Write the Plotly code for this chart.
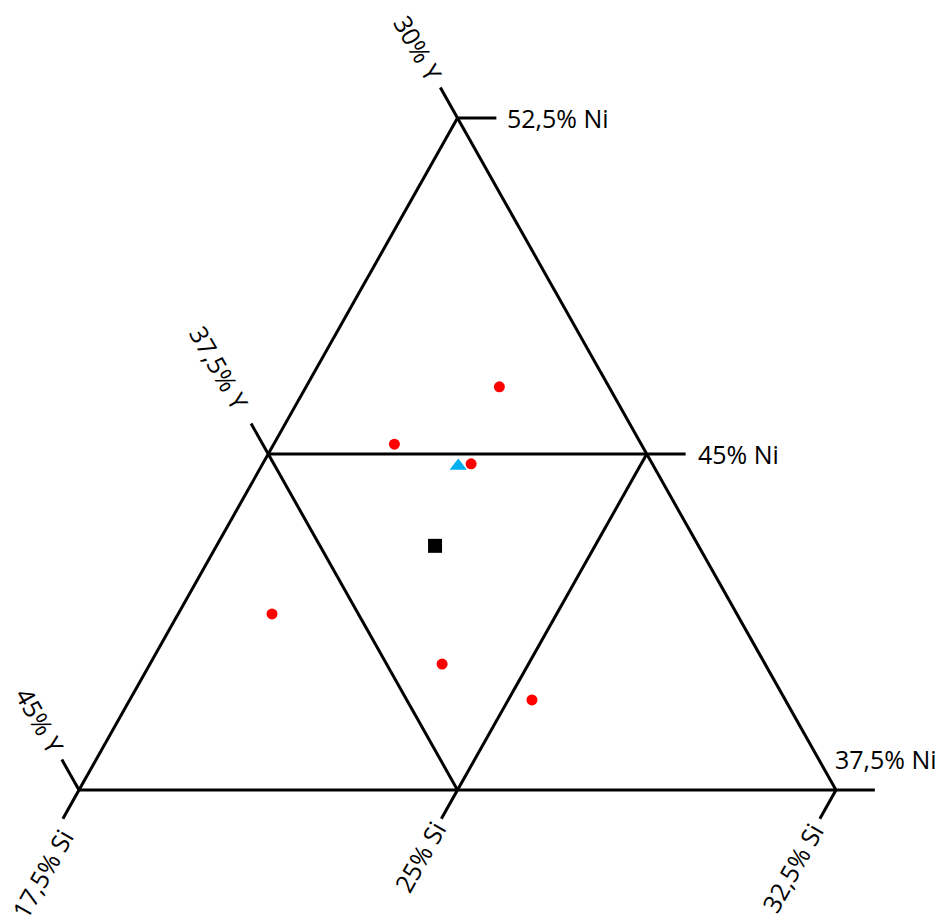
import plotly.graph_objects as go

# Composition window (at.%): each component spans 15 points
NI_MIN, SI_MIN, Y_MIN, SPAN = 37.5, 17.5, 30.0, 15.0

# Measured alloy compositions (Ni, Si, Y in at.%)
alloy_ni = [46.50, 45.22, 44.78, 40.31, 39.51, 41.43]
alloy_si = [21.33, 19.89, 21.63, 23.29, 25.47, 19.36]
alloy_y = [32.17, 34.89, 33.59, 36.40, 35.02, 39.21]

# Reference compositions
target_ni, target_si, target_y = [44.73], [21.40], [33.87]
nominal_ni, nominal_si, nominal_y = [42.95], [21.83], [35.22]

# Tick values on each component
ni_ticks = [52.5, 45.0, 37.5]
ni_labels = ["52,5% Ni", "45% Ni", "37,5% Ni"]
y_ticks = [30.0, 37.5, 45.0]
y_labels = ["30% Y", "37,5% Y", "45% Y"]
si_ticks = [17.5, 25.0, 32.5]
si_labels = ["17,5% Si", "25% Si", "32,5% Si"]


def to_xy(ni, si):
    """Project a (Ni, Si, Y) composition onto the plane of the triangle."""
    a = (ni - NI_MIN) / SPAN
    c = (si - SI_MIN) / SPAN
    return c + a / 2.0, a


def seg(p, q):
    x0, y0 = to_xy(*p)
    x1, y1 = to_xy(*q)
    return [x0, x1, None], [y0, y1, None]


LINE = dict(color="black", width=3)
FONT = dict(family="Open Sans, Lato, sans-serif", size=25, color="black")

xs, ys = [], []
# Outer triangle and inner half-way lines, as (Ni, Si) pairs
tri = [(52.5, 17.5), (37.5, 17.5), (37.5, 32.5), (52.5, 17.5)]
for p, q in zip(tri[:-1], tri[1:]):
    sx, sy = seg(p, q)
    xs += sx
    ys += sy
for p, q in [((45.0, 17.5), (45.0, 25.0)),
             ((45.0, 17.5), (37.5, 25.0)),
             ((45.0, 25.0), (37.5, 25.0))]:
    sx, sy = seg(p, q)
    xs += sx
    ys += sy

# Tick extensions beyond the triangle edges
d_ni, d_y, d_si = 0.77, 0.68, 0.64
for ni in ni_ticks:  # Ni = const (horizontal), running out to the right
    si_edge = 100.0 - ni - Y_MIN
    sx, sy = seg((ni, si_edge), (ni, si_edge + d_ni))
    xs += sx
    ys += sy
for yv in y_ticks:  # Y = const, running out past the left edge
    si_edge = SI_MIN
    ni_edge = 100.0 - yv - si_edge
    sx, sy = seg((ni_edge, si_edge), (ni_edge + d_y, si_edge - d_y))
    xs += sx
    ys += sy
for si in si_ticks:  # Si = const, running out below the base
    sx, sy = seg((NI_MIN, si), (NI_MIN - d_si, si))
    xs += sx
    ys += sy

fig = go.Figure()
fig.add_trace(go.Scatter(x=xs, y=ys, mode="lines", line=LINE,
                         hoverinfo="skip", showlegend=False))

ax, ay = zip(*[to_xy(n, s) for n, s in zip(alloy_ni, alloy_si)])
fig.add_trace(go.Scatter(x=list(ax), y=list(ay), mode="markers",
                         marker=dict(color="#FF0000", size=11, symbol="circle"),
                         customdata=alloy_y, showlegend=False))
tx, ty = zip(*[to_xy(n, s) for n, s in zip(target_ni, target_si)])
fig.add_trace(go.Scatter(x=list(tx), y=list(ty), mode="markers",
                         marker=dict(color="#00B0F0", size=15, symbol="triangle-up"),
                         customdata=target_y, showlegend=False))
nx, ny = zip(*[to_xy(n, s) for n, s in zip(nominal_ni, nominal_si)])
fig.add_trace(go.Scatter(x=list(nx), y=list(ny), mode="markers",
                         marker=dict(color="black", size=14, symbol="square"),
                         customdata=nominal_y, showlegend=False))

# Ni labels: to the right of the tick ends (the lowest one sits above its tick)
ni_shift = [(9, 0), (10, 0), (-42, 31)]
for ni, text, (dx, dy) in zip(ni_ticks, ni_labels, ni_shift):
    x, y = to_xy(ni, 100.0 - ni - Y_MIN + d_ni)
    fig.add_annotation(x=x, y=y, text=text, showarrow=False, font=FONT,
                       xanchor="left", yanchor="middle", xshift=dx, yshift=dy)

# Y labels: rotated along the Y = const direction, beyond the tick
y_dist = [80, 99, 80]
ux, uy = -0.491, 0.871
for yv, text, dist in zip(y_ticks, y_labels, y_dist):
    x, y = to_xy(100.0 - yv - SI_MIN, SI_MIN)
    fig.add_annotation(x=x, y=y, text=text, showarrow=False, font=FONT,
                       textangle=60.6, xanchor="center", yanchor="middle",
                       xshift=ux * dist, yshift=uy * dist)

# Si labels: rotated along the Si = const direction, below the base
si_shift = [(-37, -84), (-38, -67), (-44, -78)]
for si, text, (dx, dy) in zip(si_ticks, si_labels, si_shift):
    x, y = to_xy(NI_MIN, si)
    fig.add_annotation(x=x, y=y, text=text, showarrow=False, font=FONT,
                       textangle=-60.6, xanchor="center", yanchor="middle",
                       xshift=dx, yshift=dy)

fig.update_layout(
    width=942, height=920,
    margin=dict(l=0, r=0, t=0, b=0),
    paper_bgcolor="white", plot_bgcolor="white",
    xaxis=dict(range=[-0.10436, 1.14003], visible=False, fixedrange=True),
    yaxis=dict(range=[-0.19345, 1.17560], visible=False, fixedrange=True),
)

fig.write_html("out.html")
